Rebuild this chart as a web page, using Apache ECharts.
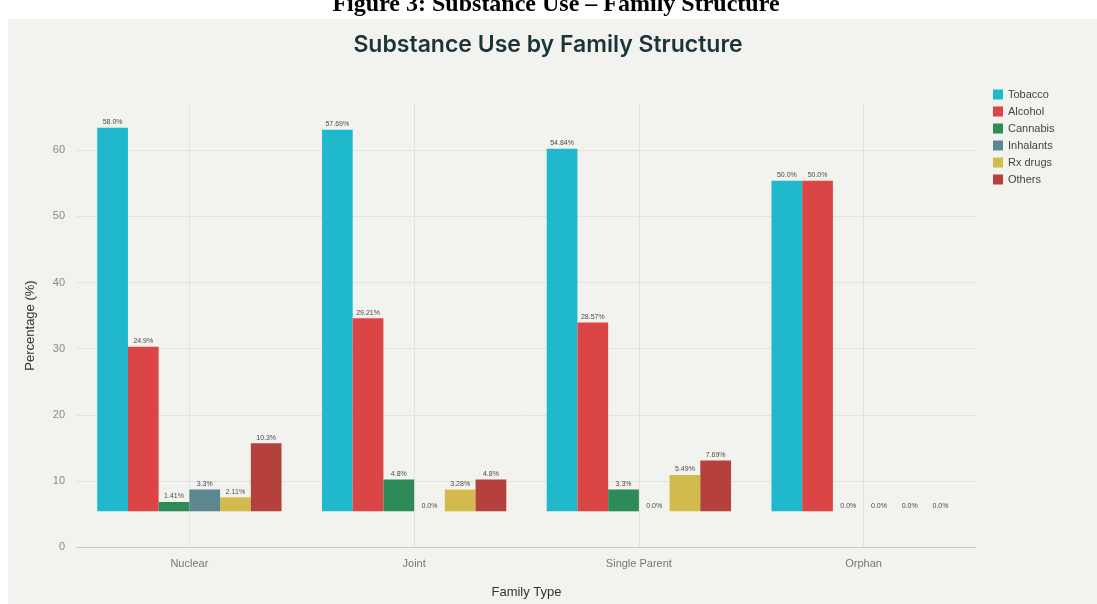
<!DOCTYPE html>
<html>
<head>
<meta charset="utf-8">
<title>Substance Use by Family Structure</title>
<script src="https://cdn.jsdelivr.net/npm/echarts@6/dist/echarts.min.js"></script>
<style>
  html, body { margin: 0; padding: 0; background: #ffffff; }
  #chart { width: 1097px; height: 604px; }
</style>
</head>
<body>
<div id="chart"></div>
<script>
// Family types along the x axis
const categories = ['Nuclear', 'Joint', 'Single Parent', 'Orphan'];

// Percentage of respondents per substance, one value per family type
const tobacco   = [58.0, 57.69, 54.84, 50.0];
const alcohol   = [24.9, 29.21, 28.57, 50.0];
const cannabis  = [1.41, 4.80, 3.30, 0];
const inhalants = [3.3, 0, 0, 0];
const rxDrugs   = [2.11, 3.28, 5.49, 0];
const others    = [10.3, 4.80, 7.69, 0];

const seriesNames = ['Tobacco', 'Alcohol', 'Cannabis', 'Inhalants', 'Rx drugs', 'Others'];
const seriesValues = [tobacco, alcohol, cannabis, inhalants, rxDrugs, others];
const seriesColors = ['#1FB8CD', '#DB4545', '#2E8B57', '#5D878F', '#D2BA4C', '#B4413C'];

// Y axis tick values
const yTicks = [0, 10, 20, 30, 40, 50, 60];

// Bars rise from a raised floor rather than from zero
const BAR_FLOOR = 5.4;

function pctLabel(v) {
  return (Number.isInteger(v) ? v.toFixed(1) : String(v)) + '%';
}

const series = [];
seriesNames.forEach((name, i) => {
  // invisible spacer that lifts each bar to the floor
  series.push({
    name: '_floor' + i,
    type: 'bar',
    stack: 's' + i,
    silent: true,
    data: categories.map(() => BAR_FLOOR),
    itemStyle: { color: 'rgba(0,0,0,0)' },
    label: { show: false },
    barGap: '0%',
    barCategoryGap: '18%'
  });
  series.push({
    name: name,
    type: 'bar',
    stack: 's' + i,
    data: seriesValues[i],
    itemStyle: { color: seriesColors[i] },
    label: {
      show: true,
      position: 'top',
      distance: 2,
      fontSize: 7,
      fontFamily: 'Liberation Sans, Arial, sans-serif',
      color: '#4a4a4a',
      formatter: p => pctLabel(p.value)
    },
    barGap: '0%',
    barCategoryGap: '18%'
  });
});

const chart = echarts.init(document.getElementById('chart'), null, { renderer: 'canvas' });

chart.setOption({
  animation: false,
  backgroundColor: '#ffffff',
  graphic: [
    {
      type: 'rect',
      left: 8, top: 19,
      shape: { width: 1089, height: 585 },
      style: { fill: '#F2F2EE' },
      z: -10
    },
    {
      type: 'text',
      x: 556, y: 17,
      style: {
        text: 'Figure 3: Substance Use \u2013 Family Structure',
        font: 'bold 24px "Liberation Serif", "Times New Roman", serif',
        fill: '#000000',
        align: 'center',
        verticalAlign: 'bottom'
      },
      z: 10
    },
    {
      type: 'text',
      x: 548, y: 45,
      style: {
        text: 'Substance Use by Family Structure',
        font: '600 23px Inter, "Open Sans", sans-serif',
        fill: '#1C333A',
        align: 'center',
        verticalAlign: 'middle'
      },
      z: 10
    }
  ],
  legend: {
    orient: 'vertical',
    left: 988,
    top: 84,
    itemWidth: 10,
    itemHeight: 10,
    itemGap: 6,
    icon: 'rect',
    data: seriesNames,
    textStyle: {
      fontSize: 11,
      color: '#444',
      fontFamily: 'Liberation Sans, Arial, sans-serif'
    }
  },
  grid: {
    left: 77,
    right: 121,
    top: 104,
    bottom: 56,
    containLabel: false
  },
  xAxis: {
    type: 'category',
    data: categories,
    name: 'Family Type',
    nameLocation: 'middle',
    nameGap: 39,
    nameTextStyle: { fontSize: 13, color: '#333', fontFamily: 'Liberation Sans, Arial, sans-serif' },
    axisLine: { show: true, lineStyle: { color: '#c8c8c4', width: 1 } },
    axisTick: { show: false, alignWithLabel: true },
    axisLabel: { fontSize: 11, color: '#777', margin: 11, fontFamily: 'Liberation Sans, Arial, sans-serif' },
    splitLine: { show: true, alignWithLabel: true, lineStyle: { color: '#e2e2de', width: 1 } }
  },
  yAxis: {
    type: 'value',
    min: yTicks[0],
    max: 67,
    interval: 10,
    name: 'Percentage (%)',
    nameLocation: 'middle',
    nameGap: 40,
    nameTextStyle: { fontSize: 13, color: '#333', fontFamily: 'Liberation Sans, Arial, sans-serif' },
    axisLine: { show: false },
    axisTick: { show: false },
    axisLabel: {
      fontSize: 11, color: '#888', margin: 12, showMaxLabel: false,
      fontFamily: 'Liberation Sans, Arial, sans-serif'
    },
    splitLine: { show: true, showMaxLine: false, lineStyle: { color: '#e2e2de', width: 1 } }
  },
  series: series
});
</script>
</body>
</html>
